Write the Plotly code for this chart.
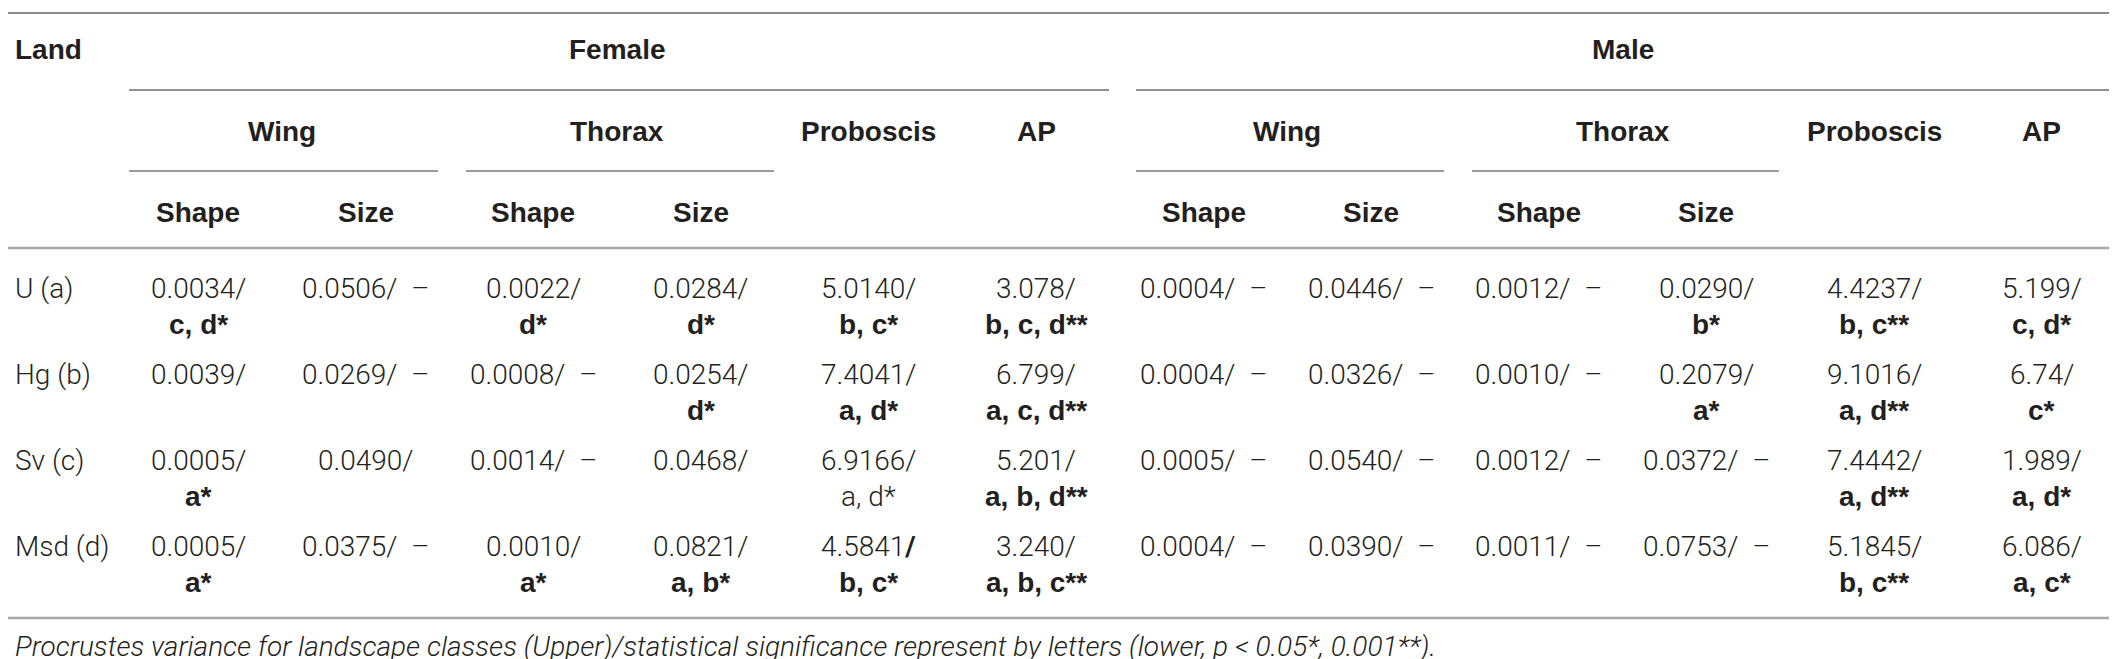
import plotly.graph_objects as go

# ---------------- data ----------------
land = ["U (a)", "Hg (b)", "Sv (c)", "Msd (d)"]

f_wing_shape_val = ["0.0034/", "0.0039/", "0.0005/", "0.0005/"]
f_wing_shape_sig = ["c, d*", "", "a*", "a*"]
f_wing_size_val = ["0.0506/ –", "0.0269/ –", "0.0490/", "0.0375/ –"]
f_wing_size_sig = ["", "", "", ""]
f_thorax_shape_val = ["0.0022/", "0.0008/ –", "0.0014/ –", "0.0010/"]
f_thorax_shape_sig = ["d*", "", "", "a*"]
f_thorax_size_val = ["0.0284/", "0.0254/", "0.0468/", "0.0821/"]
f_thorax_size_sig = ["d*", "d*", "", "a, b*"]
f_proboscis_val = ["5.0140/", "7.4041/", "6.9166/", "4.5841/"]
f_proboscis_sig = ["b, c*", "a, d*", "a, d*", "b, c*"]
f_ap_val = ["3.078/", "6.799/", "5.201/", "3.240/"]
f_ap_sig = ["b, c, d**", "a, c, d**", "a, b, d**", "a, b, c**"]

m_wing_shape_val = ["0.0004/ –", "0.0004/ –", "0.0005/ –", "0.0004/ –"]
m_wing_shape_sig = ["", "", "", ""]
m_wing_size_val = ["0.0446/ –", "0.0326/ –", "0.0540/ –", "0.0390/ –"]
m_wing_size_sig = ["", "", "", ""]
m_thorax_shape_val = ["0.0012/ –", "0.0010/ –", "0.0012/ –", "0.0011/ –"]
m_thorax_shape_sig = ["", "", "", ""]
m_thorax_size_val = ["0.0290/", "0.2079/", "0.0372/ –", "0.0753/ –"]
m_thorax_size_sig = ["b*", "a*", "", ""]
m_proboscis_val = ["4.4237/", "9.1016/", "7.4442/", "5.1845/"]
m_proboscis_sig = ["b, c**", "a, d**", "a, d**", "b, c**"]
m_ap_val = ["5.199/", "6.74/", "1.989/", "6.086/"]
m_ap_sig = ["c, d*", "c*", "a, d*", "a, c*"]

# cells whose significance letters are printed in regular weight (column index, row index)
regular_sig_cells = [(4, 2)]
# cells whose slash is printed in bold
bold_slash_cells = [(4, 3)]

groups = ["Female", "Male"]
parts = ["Wing", "Thorax", "Proboscis", "AP"]
subparts = ["Shape", "Size"]
header_land = "Land"
footnote = ("Procrustes variance for landscape classes (Upper)/statistical significance "
            "represent by letters (lower, <i>p</i> &lt; 0.05*, 0.001**).")

columns_val = [f_wing_shape_val, f_wing_size_val, f_thorax_shape_val, f_thorax_size_val,
               f_proboscis_val, f_ap_val, m_wing_shape_val, m_wing_size_val,
               m_thorax_shape_val, m_thorax_size_val, m_proboscis_val, m_ap_val]
columns_sig = [f_wing_shape_sig, f_wing_size_sig, f_thorax_shape_sig, f_thorax_size_sig,
               f_proboscis_sig, f_ap_sig, m_wing_shape_sig, m_wing_size_sig,
               m_thorax_shape_sig, m_thorax_size_sig, m_proboscis_sig, m_ap_sig]

# ---------------- layout constants ----------------
W, H = 2117, 659
COL0, COLSTEP = 190, 167.6
ROW0, ROWSTEP, SUBLINE = 280, 86, 36
Y_GROUP, Y_PART, Y_SUB = 41, 123, 204

BOLD = "Liberation Sans, Arial, sans-serif"
LIGHT = "Roboto, Liberation Sans, sans-serif"
TXT = "#231f20"

def cx(i):
    return COL0 + COLSTEP * i

annotations = []

def add(text, x, y, family, size, weight=400, xanchor="center", italic=False, color=TXT):
    annotations.append(dict(
        text=text, x=x, y=y, xref="x", yref="y", showarrow=False,
        xanchor=xanchor, yanchor="middle",
        font=dict(family=family, size=size, color=color, weight=weight,
                  style="italic" if italic else "normal"),
    ))

# header
add(header_land, 5, Y_GROUP, BOLD, 28, 700, xanchor="left")
for g, name in enumerate(groups):
    add(name, (cx(6 * g) + cx(6 * g + 5)) / 2, Y_GROUP, BOLD, 28, 700)
    for p, part in enumerate(parts):
        if p < 2:
            c0 = 6 * g + 2 * p
            add(part, (cx(c0) + cx(c0 + 1)) / 2, Y_PART, BOLD, 28, 700)
            for s, sub in enumerate(subparts):
                add(sub, cx(c0 + s), Y_SUB, BOLD, 28, 700)
        else:
            add(part, cx(6 * g + 2 + p), Y_PART, BOLD, 28, 700)

# body
for r, name in enumerate(land):
    y = ROW0 + ROWSTEP * r
    add(name, 5, y, LIGHT, 28, 300, xanchor="left")
    for c in range(12):
        val = columns_val[c][r]
        if (c, r) in bold_slash_cells:
            val = val.replace("/", "<b>/</b>")
        add(val.replace("/ –", "/  –"), cx(c), y, LIGHT, 28, 300)
        sig = columns_sig[c][r]
        if sig:
            if (c, r) in regular_sig_cells:
                add(sig, cx(c), y + SUBLINE, LIGHT, 28, 300)
            else:
                add(sig, cx(c), y + SUBLINE, BOLD, 28, 700)

add(footnote, 5, 638, LIGHT, 28, 300, xanchor="left", italic=True)

# rules
shapes = []

def hline(x0, x1, y, color, width):
    shapes.append(dict(type="line", xref="x", yref="y", x0=x0, x1=x1, y0=y, y1=y,
                       line=dict(color=color, width=width)))

hline(0, W, 5, "#8a8a8a", 2)
hline(121, 1101, 82, "#6d6d6d", 1.6)
hline(1128, 2112, 82, "#6d6d6d", 1.6)
for (a, b) in [(121, 430), (458, 766), (1128, 1436), (1464, 1771)]:
    hline(a, b, 163, "#9a9a9a", 2)
hline(0, W, 240, "#a8a8a8", 2.5)
hline(0, W, 610, "#a8a8a8", 2.5)

fig = go.Figure()
fig.update_layout(
    width=W, height=H, margin=dict(l=0, r=0, t=0, b=0),
    paper_bgcolor="white", plot_bgcolor="white",
    xaxis=dict(range=[0, W], visible=False, fixedrange=True),
    yaxis=dict(range=[H, 0], visible=False, fixedrange=True),
    annotations=annotations, shapes=shapes, showlegend=False,
)
fig.write_html("out.html", config={"displayModeBar": False})
